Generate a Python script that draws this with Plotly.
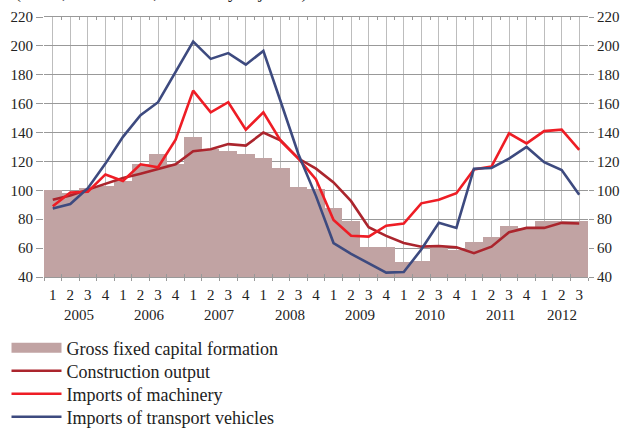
import plotly.graph_objects as go

# quarters 2005Q1 .. 2012Q3
quarters = ["1", "2", "3", "4"] * 7 + ["1", "2", "3"]
years = ["2005", "2006", "2007", "2008", "2009", "2010", "2011", "2012"]
year_centers = [1.5, 5.5, 9.5, 13.5, 17.5, 21.5, 25.5, 29]

gross_fixed_capital = [100, 98.5, 101.5, 103, 106.5, 118, 125, 118,
                       137, 128.5, 127, 125, 122.5, 115.5, 102, 101,
                       87.5, 79, 61, 60.5, 50.5, 51, 61, 58.5,
                       64.5, 67.5, 75.5, 74, 79, 78.5, 79]
construction = [93.5, 96.5, 100.5, 104.5, 108.5, 111.5, 115, 118,
                127, 128.5, 132, 131, 140, 134.5, 122, 115,
                105.5, 92.5, 74.5, 68.5, 63.5, 61, 61.5, 60.5,
                56.5, 61, 71, 74, 74, 77.5, 77]
machinery = [89, 98.5, 99, 111, 106.5, 118, 116, 135,
             169, 154, 161, 142, 154, 134, 122, 107.5,
             79.5, 68.5, 68, 75.5, 77, 91, 93.5, 98,
             114.5, 116.5, 139.5, 132.5, 141, 142, 128]
transport = [87.5, 90.5, 101.5, 118.5, 137, 152, 161, 182,
             203, 191, 195, 187, 196.5, 161, 125, 96,
             63.5, 56, 49.5, 43, 43.5, 59, 77.5, 74,
             115, 115.5, 122, 130, 119.5, 114, 97]

idx = list(range(len(quarters)))
bounds = [i - 0.5 for i in range(len(quarters) + 1)]

FONT = "Liberation Serif"
BAR_COL = "#c1a3a3"
W, H = 621, 430

fig = go.Figure()

fig.add_trace(go.Bar(x=idx, y=gross_fixed_capital, name="Gross fixed capital formation",
                     marker=dict(color=BAR_COL, line=dict(width=0)), showlegend=False))
# legend proxy so the swatch is a wide block like the original
fig.add_trace(go.Scatter(x=[None], y=[None], mode="lines", name="Gross fixed capital formation",
                         line=dict(color=BAR_COL, width=14), legend="legend"))

line_series = [("Construction output", construction, "#ab252d", "legend2"),
               ("Imports of machinery", machinery, "#ee1d25", "legend3"),
               ("Imports of transport vehicles", transport, "#3d4a7f", "legend4")]
for name, vals, col, lg in line_series:
    fig.add_trace(go.Scatter(x=idx, y=vals, name=name, mode="lines",
                             line=dict(color=col, width=2.6),
                             xaxis="x2", yaxis="y2", legend=lg))

for yr, xc in zip(years, year_centers):
    fig.add_annotation(x=xc, y=0, xref="x", yref="paper", text=yr, showarrow=False,
                       yanchor="middle", yshift=-38, font=dict(family=FONT, size=15, color="#222"))

# subtitle, mostly outside the frame in the original (only descenders show)
fig.add_annotation(x=-0.057, y=1, xref="paper", yref="paper", xanchor="left", yanchor="bottom",
                   yshift=12, showarrow=False, font=dict(family=FONT, size=18, color="#222"),
                   text="(Index, 2005 = 100, seasonally adjusted)")


def leg(yc):
    return dict(xref="container", yref="container", x=6.5 / W, y=1 - yc / H,
                xanchor="left", yanchor="middle", font=dict(family=FONT, size=18, color="#222"),
                itemwidth=50, bgcolor="rgba(0,0,0,0)")


tickfont = dict(family=FONT, size=15, color="#222")
fig.update_layout(
    width=W, height=H,
    margin=dict(l=44, r=33, t=17, b=153, autoexpand=False),
    paper_bgcolor="white", plot_bgcolor="white",
    font=dict(family=FONT, size=15, color="#222"),
    bargap=0,
    showlegend=True,
    legend=leg(348), legend2=leg(371), legend3=leg(394), legend4=leg(417),
    xaxis=dict(range=[-0.5, 30.5], tickmode="array", tickvals=idx, ticktext=quarters,
               ticks="", showgrid=True, gridcolor="#bdbdbd", gridwidth=1,
               showline=True, linecolor="#999", mirror=True, zeroline=False,
               ticklabelstandoff=4, tickfont=tickfont,
               minor=dict(tickvals=bounds, ticks="outside", ticklen=3, tickcolor="#999",
                          showgrid=False)),
    xaxis2=dict(overlaying="x", matches="x", anchor="y", tickmode="array", tickvals=bounds,
                ticks="inside", ticklen=3, tickcolor="#999", showticklabels=False,
                showgrid=False, showline=False, mirror="ticks", zeroline=False),
    yaxis=dict(range=[40, 220], tickmode="linear", tick0=40, dtick=20,
               ticks="outside", ticklen=7, tickcolor="#999", tickfont=tickfont,
               showgrid=True, gridcolor="#999", zeroline=False, showline=False),
    yaxis2=dict(overlaying="y", side="right", anchor="x", range=[40, 220], tickmode="linear",
                tick0=40, dtick=20, ticks="outside", ticklen=5, tickcolor="#999", tickfont=tickfont,
                showgrid=False, zeroline=False, showline=False),
)

# the page body has a default 8px margin; drop it so the figure fills the window
fig.write_html("out.html", config={"displayModeBar": False},
               post_script="document.body.style.margin='0';")
